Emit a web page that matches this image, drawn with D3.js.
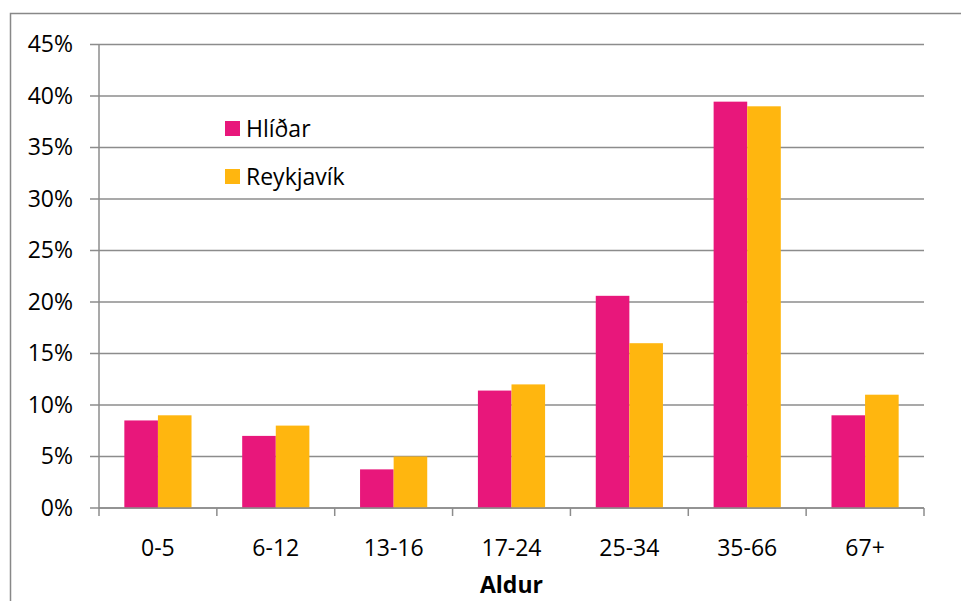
<!DOCTYPE html>
<html>
<head>
<meta charset="utf-8">
<script src="https://cdn.jsdelivr.net/npm/d3@7"></script>
<style>
  body { margin: 0; background: #fff; }
  svg text { font-family: "Open Sans", sans-serif; fill: #000; }
</style>
</head>
<body>
<div id="chart"></div>
<script>
// age groups and share of population
const categories = ["0-5", "6-12", "13-16", "17-24", "25-34", "35-66", "67+"];
const hlidar = [8.5, 7.0, 3.75, 11.4, 20.6, 39.45, 9.0];
const reykjavik = [9.0, 8.0, 5.0, 12.0, 16.0, 39.0, 11.0];
const seriesNames = ["Hlíðar", "Reykjavík"];
const yTicks = [0, 5, 10, 15, 20, 25, 30, 35, 40, 45];

const width = 961, height = 601;
const margin = {top: 44.5, right: 37, bottom: 93, left: 99};
const colors = ["#e8177b", "#ffb60f"];
const fs = 23;

const svg = d3.select("#chart").append("svg")
  .attr("width", width)
  .attr("height", height);

// outer frame
svg.append("rect")
  .attr("x", 10.5).attr("y", 13.5)
  .attr("width", 970).attr("height", 620)
  .attr("fill", "none")
  .attr("stroke", "#888")
  .attr("stroke-width", 1.5);

const innerW = width - margin.left - margin.right;
const innerH = height - margin.top - margin.bottom;

const g = svg.append("g")
  .attr("transform", "translate(" + margin.left + "," + margin.top + ")");

const x0 = d3.scaleBand().domain(categories).range([0, innerW]).paddingInner(0.43).paddingOuter(0.215);
const x1 = d3.scaleBand().domain(seriesNames).range([0, x0.bandwidth()]);
const y = d3.scaleLinear().domain([0, 45]).range([innerH, 0]);

// grid lines
g.append("g")
  .selectAll("line")
  .data(yTicks)
  .enter().append("line")
  .attr("x1", -9).attr("x2", innerW)
  .attr("y1", d => y(d)).attr("y2", d => y(d))
  .attr("stroke", "#8c8c8c")
  .attr("stroke-width", 1.5);

// y labels
g.append("g")
  .call(d3.axisLeft(y).tickValues(yTicks).tickSize(0).tickPadding(26).tickFormat(d => d + "%"))
  .call(a => a.select(".domain").remove())
  .selectAll("text")
  .attr("font-size", fs)
  .attr("font-family", "'Open Sans', sans-serif");

// bars
const rows = categories.map((c, i) => ({cat: c, vals: [hlidar[i], reykjavik[i]]}));
const grp = g.selectAll(".cat")
  .data(rows)
  .enter().append("g")
  .attr("transform", d => "translate(" + x0(d.cat) + ",0)");

grp.selectAll("rect")
  .data(d => d.vals.map((v, j) => ({name: seriesNames[j], v: v, j: j})))
  .enter().append("rect")
  .attr("x", d => x1(d.name))
  .attr("width", x1.bandwidth())
  .attr("y", d => y(d.v))
  .attr("height", d => innerH - y(d.v))
  .attr("fill", d => colors[d.j]);

// y axis line
g.append("line")
  .attr("x1", 0).attr("x2", 0)
  .attr("y1", 0).attr("y2", innerH)
  .attr("stroke", "#8c8c8c").attr("stroke-width", 1.5);

// x axis with ticks between categories
const step = innerW / categories.length;
g.append("line")
  .attr("x1", 0).attr("x2", innerW)
  .attr("y1", innerH).attr("y2", innerH)
  .attr("stroke", "#8c8c8c").attr("stroke-width", 1.5);
g.append("g")
  .selectAll("line")
  .data(d3.range(categories.length + 1))
  .enter().append("line")
  .attr("x1", d => d * step).attr("x2", d => d * step)
  .attr("y1", innerH).attr("y2", innerH + 8)
  .attr("stroke", "#8c8c8c").attr("stroke-width", 1.5);

g.append("g")
  .selectAll("text")
  .data(categories)
  .enter().append("text")
  .attr("x", (d, i) => (i + 0.5) * step)
  .attr("y", innerH + 48)
  .attr("text-anchor", "middle")
  .attr("font-size", fs)
  .text(d => d);

// axis title
svg.append("text")
  .attr("x", margin.left + innerW / 2)
  .attr("y", 593)
  .attr("text-anchor", "middle")
  .attr("font-size", fs)
  .attr("font-weight", "bold")
  .text("Aldur");

// legend
const legend = svg.append("g").attr("transform", "translate(225,121)");
seriesNames.forEach((n, i) => {
  legend.append("rect")
    .attr("x", 0).attr("y", i * 48)
    .attr("width", 15).attr("height", 15)
    .attr("fill", colors[i]);
  legend.append("text")
    .attr("x", 21).attr("y", i * 48 + 16)
    .attr("font-size", fs)
    .text(n);
});
</script>
</body>
</html>
